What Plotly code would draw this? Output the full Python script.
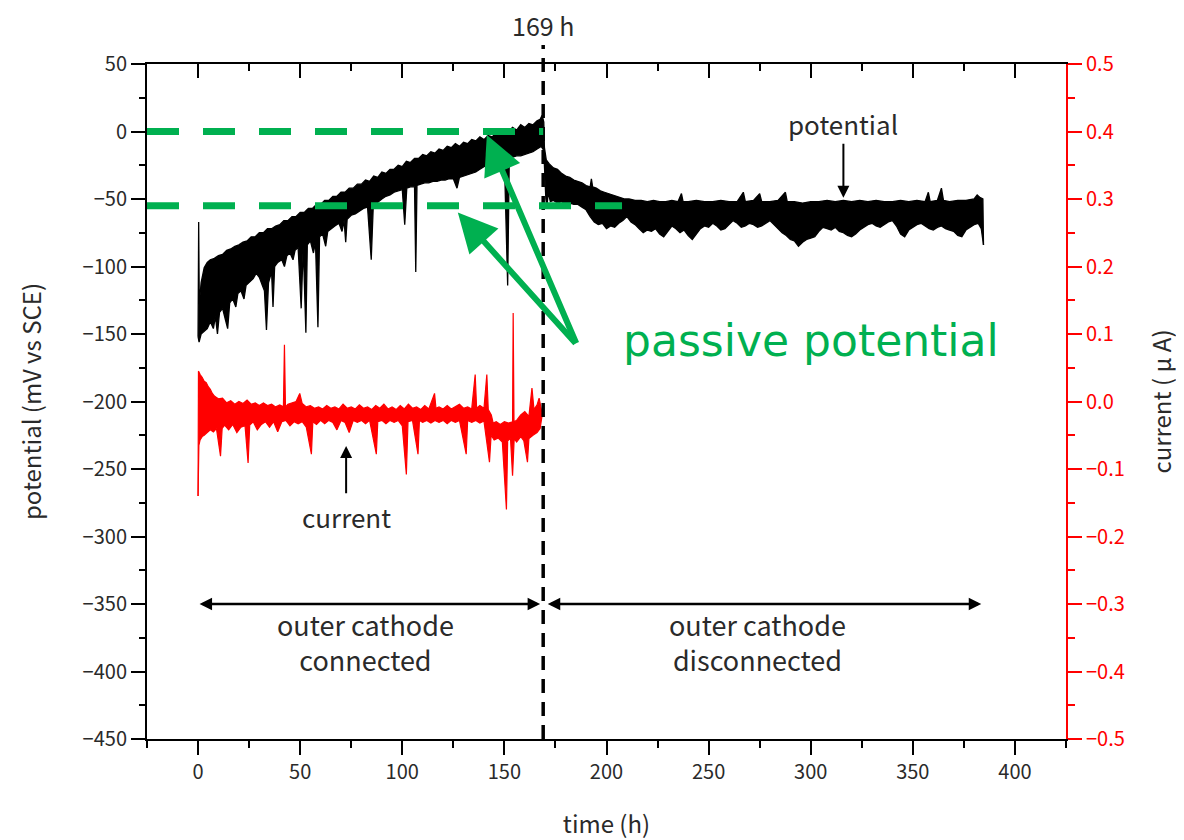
import plotly.graph_objects as go

# potential (mV vs SCE): upper / lower edge of the noisy band
pot_hi_t = [0, 0.3, 0.6, 1.5, 3, 4.5, 6, 8, 10, 12, 14, 16, 18, 20, 22, 24, 26, 28, 30, 32, 34, 36, 38,
            40, 42, 44, 46, 48, 50, 52, 54, 56, 58, 60, 62, 64, 66, 68, 70, 72, 74, 76, 78, 80, 82, 84,
            86, 88, 90, 92, 94, 96, 98, 100, 102, 104, 106, 108, 110, 112, 114, 116, 118, 120, 122,
            124, 126, 128, 130, 132, 134, 136, 138, 140, 142, 144, 146, 148, 150, 152, 154, 156, 158,
            160, 162, 164, 166, 167.5, 168.5, 169.3, 169.6, 170.5, 172, 174, 176, 178, 180, 182, 184,
            186, 188, 190, 192, 192.6, 193.2, 195, 197, 199, 201, 203, 205, 207, 209, 211, 214, 217,
            220, 223, 226, 229, 232, 235, 236.7, 237.5, 240, 244, 248, 252, 256, 260, 264, 267, 268,
            272, 275, 276, 280, 284, 287.6, 288.5, 292, 296, 300, 304, 308, 312, 316, 320, 324, 328,
            332, 336, 340, 344, 348, 352, 356, 357.6, 358.5, 362, 364, 365, 368, 372, 376, 380, 381.5,
            383, 384.3, 384.6]
pot_hi_mv = [-152, -67, -128, -112, -101, -97, -95, -94, -92, -91, -88, -87, -85, -84, -82, -81, -78,
             -78, -75, -75, -72, -72, -70, -69, -66, -66, -63, -63, -60, -60, -57, -57, -54, -54, -51,
             -51, -48, -48, -45, -45, -42, -42, -39, -39, -36, -37, -33, -34, -30, -31, -28, -28, -25,
             -26, -22, -23, -20, -20, -17, -18, -15, -16, -13, -14, -11, -12, -9, -11, -8, -9, -6, -7,
             -4, -6, -3, -4, -1, -2, 1, 0, 3, 1, 5, 3, 6, 5, 8, 9, 12, 7, -12, -21, -24, -27, -28, -31,
             -33, -34, -36, -37, -38, -40, -41, -35, -41, -42, -44, -45, -46, -47, -48, -49, -50, -50,
             -51, -51, -52, -51, -52, -52, -51, -52, -46, -52, -52, -51, -52, -52, -51, -52, -52, -45,
             -52, -51, -46, -52, -52, -51, -45, -52, -52, -53, -52, -52, -51, -52, -51, -52, -51, -52,
             -51, -52, -52, -51, -52, -51, -52, -45, -52, -51, -42, -51, -52, -51, -51, -50, -47, -49,
             -50, -84]

pot_lo_t = [0, 0.5, 1.5, 3, 4.5, 6, 7.5, 8.5, 9.5, 10.5, 12, 13.5, 14.5, 15.5, 17, 18.5, 19.5, 21,
            22.5, 23.5, 25, 27, 28.5, 30, 31.5, 32.5, 33.5, 34.5, 36, 36.7, 37.5, 39, 41, 42.3, 43.5, 45,
            46.5, 47.5, 49, 50.5, 51.5, 52.8, 53.5, 55, 56.5, 57.5, 58.7, 59.5, 61, 62.5, 63.5, 65, 67,
            69, 70.5, 71.5, 72.3, 73, 75, 77, 79, 81, 83, 84.8, 85.8, 88, 90, 92, 94, 96, 98, 100,
            101.2, 102.2, 104, 106, 106.6, 107.2, 109, 111, 113, 115, 117, 119, 121, 123, 125, 126.8,
            128, 130, 132, 134, 136, 138, 140, 142, 144, 146, 148, 150, 151.6, 152.4, 154, 156, 158,
            160, 162, 164, 166, 168, 169.3, 169.6, 170.3, 170.8, 171.5, 172.5, 174, 176, 178, 180, 182,
            184, 186, 188, 190, 192, 194, 196, 198, 200, 202, 204, 206, 208, 210, 212, 214, 216, 218,
            220, 222, 224, 226, 228, 230, 232, 234, 236, 238, 240, 242, 244, 246, 248, 250, 252, 254,
            256, 258, 260, 262, 264, 266, 268, 270, 272, 274, 276, 278, 280, 282, 284, 286, 288, 290,
            292, 294, 296, 298, 300, 302, 304, 306, 308, 310, 312, 314, 316, 318, 320, 322, 324, 326,
            328, 330, 332, 334, 336, 338, 340, 342, 344, 346, 348, 350, 352, 354, 356, 358, 360, 362,
            364, 366, 368, 370, 372, 374, 376, 378, 380, 382, 383.5, 384.6]
pot_lo_mv = [-152, -156, -150, -148, -146, -141, -146, -137, -150, -134, -131, -140, -146, -127, -124,
             -130, -120, -118, -124, -114, -112, -109, -105, -108, -114, -118, -147, -112, -104, -130,
             -100, -97, -95, -100, -92, -90, -95, -88, -86, -131, -85, -149, -84, -81, -90, -82, -145,
             -78, -76, -85, -74, -72, -70, -68, -74, -66, -82, -65, -62, -61, -59, -57, -56, -95, -55,
             -52, -50, -48, -47, -45, -44, -43, -69, -42, -41, -41, -104, -40, -39, -38, -38, -37, -37,
             -36, -36, -35, -35, -42, -34, -33, -32, -31, -30, -28, -26, -25, -24, -23, -22, -21, -114,
             -20, -19, -18, -18, -17, -16, -15, -13, -11, -14, -30, -50, -56, -45, -52, -51, -53, -52,
             -54, -53, -54, -54, -56, -58, -63, -67, -69, -68, -72, -70, -71, -68, -66, -63, -67, -69,
             -72, -75, -73, -74, -72, -76, -78, -74, -70, -72, -75, -73, -77, -80, -76, -72, -70, -71,
             -68, -70, -73, -72, -69, -66, -68, -71, -70, -68, -69, -71, -70, -68, -66, -69, -72, -75,
             -77, -80, -81, -85, -82, -80, -79, -78, -74, -71, -72, -73, -71, -74, -75, -77, -78, -76,
             -73, -71, -69, -68, -70, -71, -69, -67, -66, -70, -76, -78, -73, -71, -69, -68, -70, -72,
             -73, -71, -70, -72, -73, -74, -77, -78, -73, -71, -69, -68, -72, -84]

# current (uA): upper / lower edge of the band
cur_hi_t = [0, 0.2, 1, 2, 3, 4, 5, 6, 7, 8, 9, 10, 12, 14, 16, 18, 20, 22, 24, 26, 28, 30, 32, 34, 36,
            38, 40, 41.8, 42.3, 42.8, 44, 46, 48, 49.8, 51, 53, 55, 57, 59, 61, 63, 65, 67, 69, 71, 73,
            75, 77, 79, 81, 83, 85, 87, 89, 91, 93, 95, 97, 99, 101, 103, 105, 107, 109, 111, 113,
            115.8, 116.5, 118, 120, 122, 124, 126, 128, 130, 132, 134, 135.7, 136.4, 138, 140, 141.4,
            142.1, 143.6, 144.5, 146, 148, 150, 152, 154, 154.3, 154.7, 156, 158, 160, 162, 163.5,
            164.5, 166, 167, 168, 168.5]
cur_hi_ua = [-0.14, 0.045, 0.04, 0.036, 0.03, 0.028, 0.022, 0.018, 0.012, 0.008, 0.006, 0.004, 0.005,
             -0.002, 0.001, -0.004, 0.0, -0.003, 0.002, -0.004, -0.002, -0.006, -0.002, -0.006, -0.004,
             -0.008, -0.005, -0.008, 0.084, -0.008, -0.004, -0.002, 0.0, 0.012, -0.003, -0.008, -0.006,
             -0.01, -0.008, -0.011, -0.006, -0.01, -0.008, -0.011, -0.004, -0.01, -0.008, -0.011,
             -0.005, -0.01, -0.008, -0.012, -0.006, -0.01, -0.004, -0.011, -0.008, -0.012, -0.006,
             -0.011, -0.004, -0.01, -0.008, -0.012, -0.006, -0.011, 0.012, -0.01, -0.008, -0.011,
             -0.006, -0.011, -0.008, -0.004, -0.01, -0.008, -0.011, 0.04, -0.01, -0.006, -0.01, 0.04,
             -0.012, -0.02, -0.032, -0.03, -0.034, -0.03, -0.032, -0.03, 0.131, -0.03, -0.028, -0.02,
             -0.015, -0.022, 0.02, -0.012, -0.005, 0.005, -0.01, -0.02]

cur_lo_t = [0, 0.4, 1, 2, 3, 4.5, 6, 7.5, 9, 11, 11.8, 13, 15, 17, 19, 21, 23, 24.5, 25.3, 27, 29, 31,
            33, 35, 37, 39, 41, 43, 45, 47, 49, 51, 53, 55.5, 56.2, 58, 60, 62, 64, 66, 68, 70, 72, 74,
            76, 78, 80, 82, 84, 87.3, 88, 90, 92, 94, 96, 98, 100, 102, 102.8, 105, 107.7, 108.4, 110,
            112, 114, 116, 118, 120, 122, 124, 126, 128, 131.3, 132, 134, 136, 138, 140, 142.7, 143.5,
            145, 147, 149, 151, 151.6, 153, 154, 154.8, 156, 158, 159.5, 161.3, 162, 164, 166, 167.5,
            168.5]
cur_lo_ua = [-0.14, -0.065, -0.057, -0.052, -0.05, -0.046, -0.042, -0.045, -0.04, -0.081, -0.04,
             -0.035, -0.042, -0.034, -0.046, -0.038, -0.036, -0.091, -0.035, -0.03, -0.042, -0.034,
             -0.03, -0.038, -0.03, -0.045, -0.03, -0.028, -0.036, -0.03, -0.033, -0.03, -0.038, -0.078,
             -0.03, -0.034, -0.028, -0.033, -0.028, -0.031, -0.042, -0.028, -0.031, -0.046, -0.028,
             -0.031, -0.028, -0.033, -0.028, -0.078, -0.03, -0.028, -0.033, -0.028, -0.031, -0.028,
             -0.036, -0.108, -0.03, -0.028, -0.078, -0.028, -0.031, -0.028, -0.032, -0.028, -0.031,
             -0.028, -0.033, -0.028, -0.031, -0.028, -0.078, -0.028, -0.031, -0.028, -0.032, -0.029,
             -0.09, -0.05, -0.057, -0.054, -0.06, -0.16, -0.058, -0.055, -0.11, -0.055, -0.06, -0.052,
             -0.058, -0.09, -0.055, -0.05, -0.046, -0.04, -0.02]

switch_time = 169
passive_mv = [0, -55]
passive_end_t = [169, 207.6]

FONT = "Noto Sans CJK JP"
TXT = "#2a2a2a"
GREEN = "#00b050"
RED = "#ff0000"

fig = go.Figure()

fig.add_trace(go.Scatter(x=pot_hi_t, y=pot_hi_mv, mode="lines",
                         line=dict(color="black", width=1.3), showlegend=False))
fig.add_trace(go.Scatter(x=pot_lo_t, y=pot_lo_mv, mode="lines", fill="tonexty",
                         fillcolor="black", line=dict(color="black", width=1.3),
                         showlegend=False))
fig.add_trace(go.Scatter(x=cur_hi_t, y=cur_hi_ua, mode="lines", xaxis="x2", yaxis="y2",
                         line=dict(color=RED, width=1.2), showlegend=False))
fig.add_trace(go.Scatter(x=cur_lo_t, y=cur_lo_ua, mode="lines", xaxis="x2", yaxis="y2",
                         fill="tonexty", fillcolor=RED, line=dict(color=RED, width=1.2),
                         showlegend=False))

tickfont = dict(family=FONT, size=20, color=TXT)

fig.update_layout(
    width=1184, height=840,
    margin=dict(l=139, r=126, t=56, b=109),
    paper_bgcolor="white", plot_bgcolor="white",
    font=dict(family=FONT, color=TXT),
    xaxis=dict(range=[-25, 425], tick0=0, dtick=50, ticks="outside", ticklen=14, tickwidth=2,
               tickcolor="black", showline=True, linecolor="black", linewidth=2,
               showgrid=False, zeroline=False, tickfont=tickfont,
               minor=dict(dtick=25, ticks="outside", ticklen=7, tickwidth=2, tickcolor="black"),
               title=dict(text="time (h)", font=dict(family=FONT, size=24, color=TXT), standoff=32)),
    xaxis2=dict(range=[-25, 425], overlaying="x", side="top", tick0=0, dtick=50, ticks="inside",
                ticklen=14, tickwidth=2, tickcolor="black", showline=True, linecolor="black",
                linewidth=2, showgrid=False, zeroline=False, showticklabels=False,
                minor=dict(dtick=25, ticks="inside", ticklen=7, tickwidth=2, tickcolor="black")),
    yaxis=dict(range=[-450, 50], dtick=50, ticks="outside", ticklen=14, tickwidth=2,
               tickcolor="black", showline=True, linecolor="black", linewidth=2,
               showgrid=False, zeroline=False, tickfont=tickfont,
               minor=dict(dtick=25, ticks="outside", ticklen=6, tickwidth=2, tickcolor="black"),
               title=dict(text="potential (mV vs SCE)", font=dict(family=FONT, size=24, color=TXT),
                          standoff=34)),
    yaxis2=dict(range=[-0.5, 0.5], overlaying="y", side="right", anchor="x", dtick=0.1,
                tickformat=".1f", ticks="outside", ticklen=14, tickwidth=2, tickcolor=RED,
                showline=True, linecolor=RED, linewidth=2, showgrid=False, zeroline=False,
                tickfont=dict(family=FONT, size=20, color=RED),
                minor=dict(dtick=0.05, ticks="outside", ticklen=7, tickwidth=2, tickcolor=RED),
                title=dict(text="current ( μ A)", font=dict(family=FONT, size=24, color=TXT),
                           standoff=30)),
)

# vertical dashed line at the switch time
fig.add_shape(type="line", xref="x", yref="paper", x0=switch_time, x1=switch_time, y0=0, y1=1.028,
              line=dict(color="black", width=3.5, dash="14px,9px"))
# passive potential levels
for mv, t_end in zip(passive_mv, passive_end_t):
    fig.add_shape(type="line", xref="x", yref="y", x0=-25, x1=t_end, y0=mv, y1=mv,
                  line=dict(color=GREEN, width=7, dash="32px,24px"))

ann = []
ann.append(dict(text="169 h", xref="x", yref="paper", x=switch_time, y=1.058, yanchor="middle",
                showarrow=False, font=dict(size=25, color=TXT)))
ann.append(dict(text="potential", x=316, y=6, showarrow=False, font=dict(size=26, color=TXT)))
ann.append(dict(text="", x=316, y=-49, ax=316, ay=-8, axref="x", ayref="y", showarrow=True,
                arrowhead=2, arrowwidth=2, arrowsize=1.2, arrowcolor="black"))
ann.append(dict(text="current", x=72.5, y=-285, showarrow=False, font=dict(size=26, color=TXT)))
ann.append(dict(text="", x=72.5, y=-233, ax=72.5, ay=-269, axref="x", ayref="y", showarrow=True,
                arrowhead=2, arrowwidth=2, arrowsize=1.2, arrowcolor="black"))
ann.append(dict(text="", x=167.5, y=-350, ax=0, ay=-350, axref="x", ayref="y", showarrow=True,
                arrowside="end+start", arrowhead=2, arrowwidth=2.5, arrowsize=1, arrowcolor="black"))
ann.append(dict(text="", x=383.5, y=-350, ax=170.5, ay=-350, axref="x", ayref="y", showarrow=True,
                arrowside="end+start", arrowhead=2, arrowwidth=2.5, arrowsize=1, arrowcolor="black"))
ann.append(dict(text="outer cathode<br>connected", x=82, y=-378, showarrow=False,
                font=dict(size=27, color=TXT)))
ann.append(dict(text="outer cathode<br>disconnected", x=274, y=-378, showarrow=False,
                font=dict(size=27, color=TXT)))
ann.append(dict(text="passive potential", x=300, y=-155, showarrow=False,
                font=dict(family="DejaVu Sans", size=44, color=GREEN)))
ann.append(dict(text="", x=141.4, y=-2.5, ax=185.5, ay=-158, axref="x", ayref="y", showarrow=True,
                arrowhead=2, arrowwidth=6, arrowsize=1.3, arrowcolor=GREEN))
ann.append(dict(text="", x=127.2, y=-60, ax=185.5, ay=-158, axref="x", ayref="y", showarrow=True,
                arrowhead=2, arrowwidth=6, arrowsize=1.3, arrowcolor=GREEN))
fig.update_layout(annotations=ann)

fig.write_html("out.html")
